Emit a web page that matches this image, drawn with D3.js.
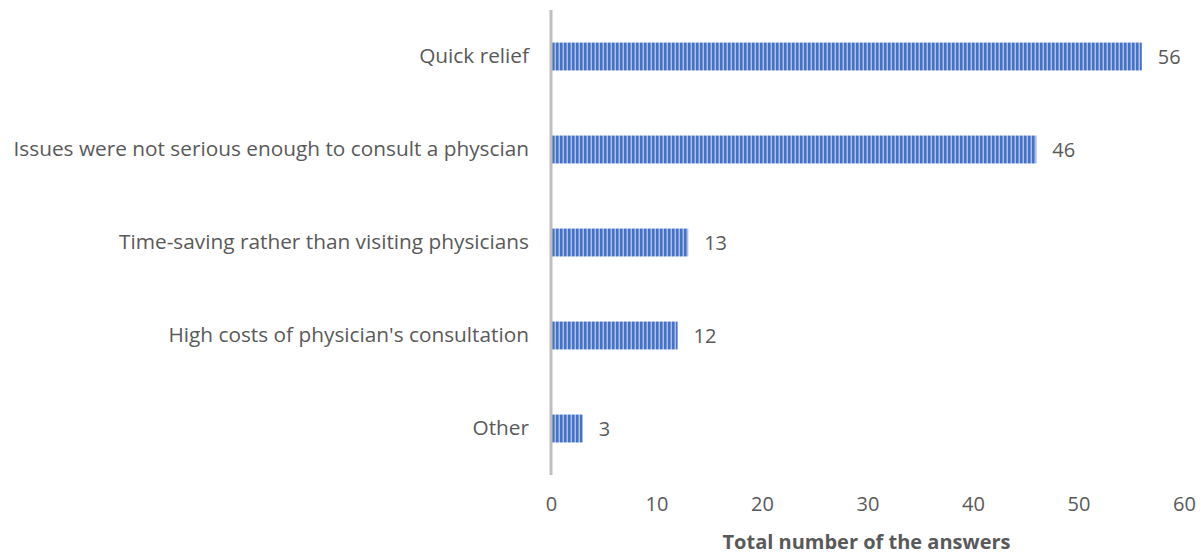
<!DOCTYPE html>
<html>
<head>
<meta charset="utf-8">
<script src="https://cdn.jsdelivr.net/npm/d3@7"></script>
<style>
  html, body { margin: 0; padding: 0; background: #fff; }
  svg { display: block; }
  text { font-family: "Open Sans", "Liberation Sans", sans-serif; fill: #595959; }
</style>
</head>
<body>
<svg id="chart" width="1203" height="554"></svg>
<script>
// Reasons for self-medication, number of answers
const categories = [
  "Quick relief",
  "Issues were not serious enough to consult a physcian",
  "Time-saving rather than visiting physicians",
  "High costs of physician's consultation",
  "Other"
];
const values = [56, 46, 13, 12, 3];
const xTicks = [0, 10, 20, 30, 40, 50, 60];
const xTitle = "Total number of the answers";

const svg = d3.select("#chart");
const margin = { top: 10, right: 19, bottom: 79, left: 551 };
const W = 1203, H = 554;
const FONT = "'Open Sans', 'Liberation Sans', sans-serif";

const x = d3.scaleLinear().domain([0, 60]).range([margin.left, W - margin.right]);
const y = d3.scaleBand().domain(categories).range([margin.top, H - margin.bottom]).paddingInner(0.7).paddingOuter(0.35);

// striped fill for bars
const defs = svg.append("defs");
const pat = defs.append("pattern")
  .attr("id", "stripes")
  .attr("patternUnits", "userSpaceOnUse")
  .attr("width", 4).attr("height", 4);
pat.append("rect").attr("width", 4).attr("height", 4).attr("fill", "#a8c0ea");
pat.append("rect").attr("x", 0).attr("width", 2).attr("height", 4).attr("fill", "#4472c4");
pat.append("rect").attr("x", 2).attr("width", 1).attr("height", 4).attr("fill", "#7596d6");

// bars
svg.append("g").selectAll("rect")
  .data(values)
  .join("rect")
  .attr("x", x(0))
  .attr("y", (d, i) => y(categories[i]))
  .attr("width", d => x(d) - x(0))
  .attr("height", y.bandwidth())
  .attr("fill", "url(#stripes)");

// value labels
svg.append("g").selectAll("text")
  .data(values)
  .join("text")
  .attr("x", d => x(d) + 16)
  .attr("y", (d, i) => y(categories[i]) + y.bandwidth() / 2)
  .attr("dy", "0.35em")
  .attr("font-size", 20)
  .text(d => d);

// category axis
const yAxis = svg.append("g")
  .attr("transform", `translate(${margin.left},0)`)
  .call(d3.axisLeft(y).tickSize(0).tickPadding(22));
yAxis.select(".domain").remove();
yAxis.append("line")
  .attr("x1", 0).attr("x2", 0)
  .attr("y1", margin.top).attr("y2", H - margin.bottom)
  .attr("stroke", "#bfbfbf").attr("stroke-width", 3);
yAxis.selectAll(".tick text")
  .attr("font-size", 20.8)
  .attr("fill", "#595959")
  .attr("font-family", FONT);

// value axis (labels only)
const xAxis = svg.append("g")
  .attr("transform", `translate(0,${H - margin.bottom})`)
  .call(d3.axisBottom(x).tickValues(xTicks).tickSize(0).tickPadding(22));
xAxis.select(".domain").remove();
xAxis.selectAll(".tick text")
  .attr("font-size", 20)
  .attr("fill", "#595959")
  .attr("font-family", FONT);

// axis title
svg.append("text")
  .attr("x", (x(0) + x(60)) / 2 - 1)
  .attr("y", 549)
  .attr("text-anchor", "middle")
  .attr("font-size", 20)
  .attr("font-weight", "bold")
  .text(xTitle);
</script>
</body>
</html>
